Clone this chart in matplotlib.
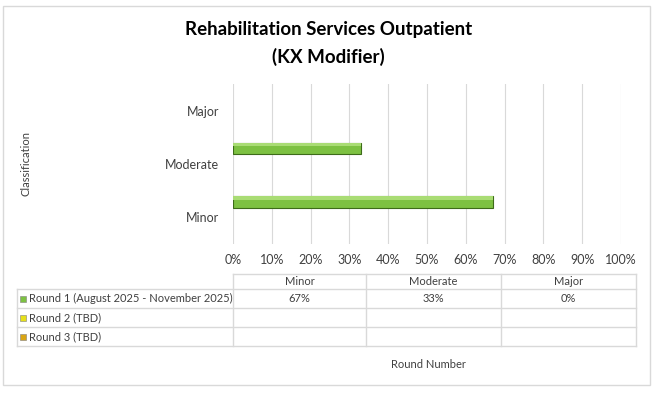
import matplotlib.pyplot as plt
from matplotlib.patches import Rectangle

plt.rcParams['font.family'] = ['Lato', 'DejaVu Sans']

# chart data
categories = ['Minor', 'Moderate', 'Major']
series_names = ['Round 1 (August 2025 - November 2025)', 'Round 2 (TBD)', 'Round 3 (TBD)']
round1 = [67, 33, 0]
round2 = [None, None, None]
round3 = [None, None, None]
series_colors = ['#7dc142', '#e6e01a', '#d9a514']
x_ticks = list(range(0, 101, 10))

W, H = 653, 393
fig = plt.figure(figsize=(W / 100, H / 100), dpi=100)

# overlay in pixel coordinates for frame, titles and the data table
ov = fig.add_axes([0, 0, 1, 1])
ov.set_xlim(0, W)
ov.set_ylim(H, 0)
ov.axis('off')
ov.add_patch(Rectangle((2.5, 6), 647, 379, fill=False, edgecolor='#d9d9d9', lw=1))
ov.text(W / 2 + 2, 29, 'Rehabilitation Services Outpatient', ha='center', va='center',
        fontsize=13.5, fontweight='bold')
ov.text(W / 2 + 2, 57, '(KX Modifier)', ha='center', va='center',
        fontsize=13.5, fontweight='bold')
ov.text(26, 163, 'Classification', rotation=90, ha='center', va='center',
        fontsize=8, color='#404040')
ov.text(428, 364, 'Round Number', ha='center', va='center', fontsize=8, color='#404040')

# bar chart
ax = fig.add_axes([233 / W, (H - 244) / H, (621 - 233) / W, 160 / H])
ypos = list(range(len(categories)))
bar_h = 0.22
offsets = [0.29, 0.07, -0.15]
for vals, off, col in zip([round1, round2, round3], offsets, series_colors):
    v = [0 if x is None else x for x in vals]
    edges = ['#3d6b19' if x else 'none' for x in v]
    ax.barh([y + off for y in ypos], v, height=bar_h, color=col,
            edgecolor=edges, lw=0.8, zorder=3)
    # light bevel on the top edge of each bar
    ax.barh([y + off + bar_h * 0.32 for y in ypos], v, height=bar_h * 0.28,
            color='#a9dc74', lw=0, zorder=4)

ax.set_xlim(0, 100)
ax.set_ylim(-0.5, 2.5)
ax.set_xticks(x_ticks)
ax.set_xticklabels([f'{t}%' for t in x_ticks])
ax.set_yticks(ypos)
ax.set_yticklabels(categories)
ax.grid(axis='x', color='#d9d9d9', lw=0.8, zorder=0)
for s in ax.spines.values():
    s.set_visible(False)
ax.tick_params(length=0, labelsize=9, labelcolor='#404040', pad=7)
ax.tick_params(axis='y', pad=10)

# data table below the chart
col_edges = [233, 366, 501, 636]
row_edges = [274, 289, 308, 327, 346]
left_edge = 16.5
line_kw = dict(color='#d9d9d9', lw=1)
ov.plot([col_edges[0], col_edges[-1]], [row_edges[0]] * 2, **line_kw)
for yy in row_edges[1:]:
    ov.plot([left_edge, col_edges[-1]], [yy] * 2, **line_kw)
for xx in col_edges:
    ov.plot([xx, xx], [row_edges[0], row_edges[-1]], **line_kw)
ov.plot([left_edge, left_edge], [row_edges[1], row_edges[-1]], **line_kw)

for i, cat in enumerate(categories):
    cx = (col_edges[i] + col_edges[i + 1]) / 2
    ov.text(cx, (row_edges[0] + row_edges[1]) / 2, cat, ha='center', va='center',
            fontsize=8, color='#404040')
for r, (name, vals, col) in enumerate(zip(series_names, [round1, round2, round3], series_colors)):
    cy = (row_edges[r + 1] + row_edges[r + 2]) / 2
    ov.add_patch(Rectangle((20, cy - 3), 6, 6, facecolor=col, edgecolor='#808080', lw=0.4))
    ov.text(29, cy, name, ha='left', va='center', fontsize=8, color='#404040')
    for i, v in enumerate(vals):
        if v is not None:
            cx = (col_edges[i] + col_edges[i + 1]) / 2
            ov.text(cx, cy, f'{v}%', ha='center', va='center', fontsize=8, color='#404040')

fig.savefig('out.png', dpi=100)
